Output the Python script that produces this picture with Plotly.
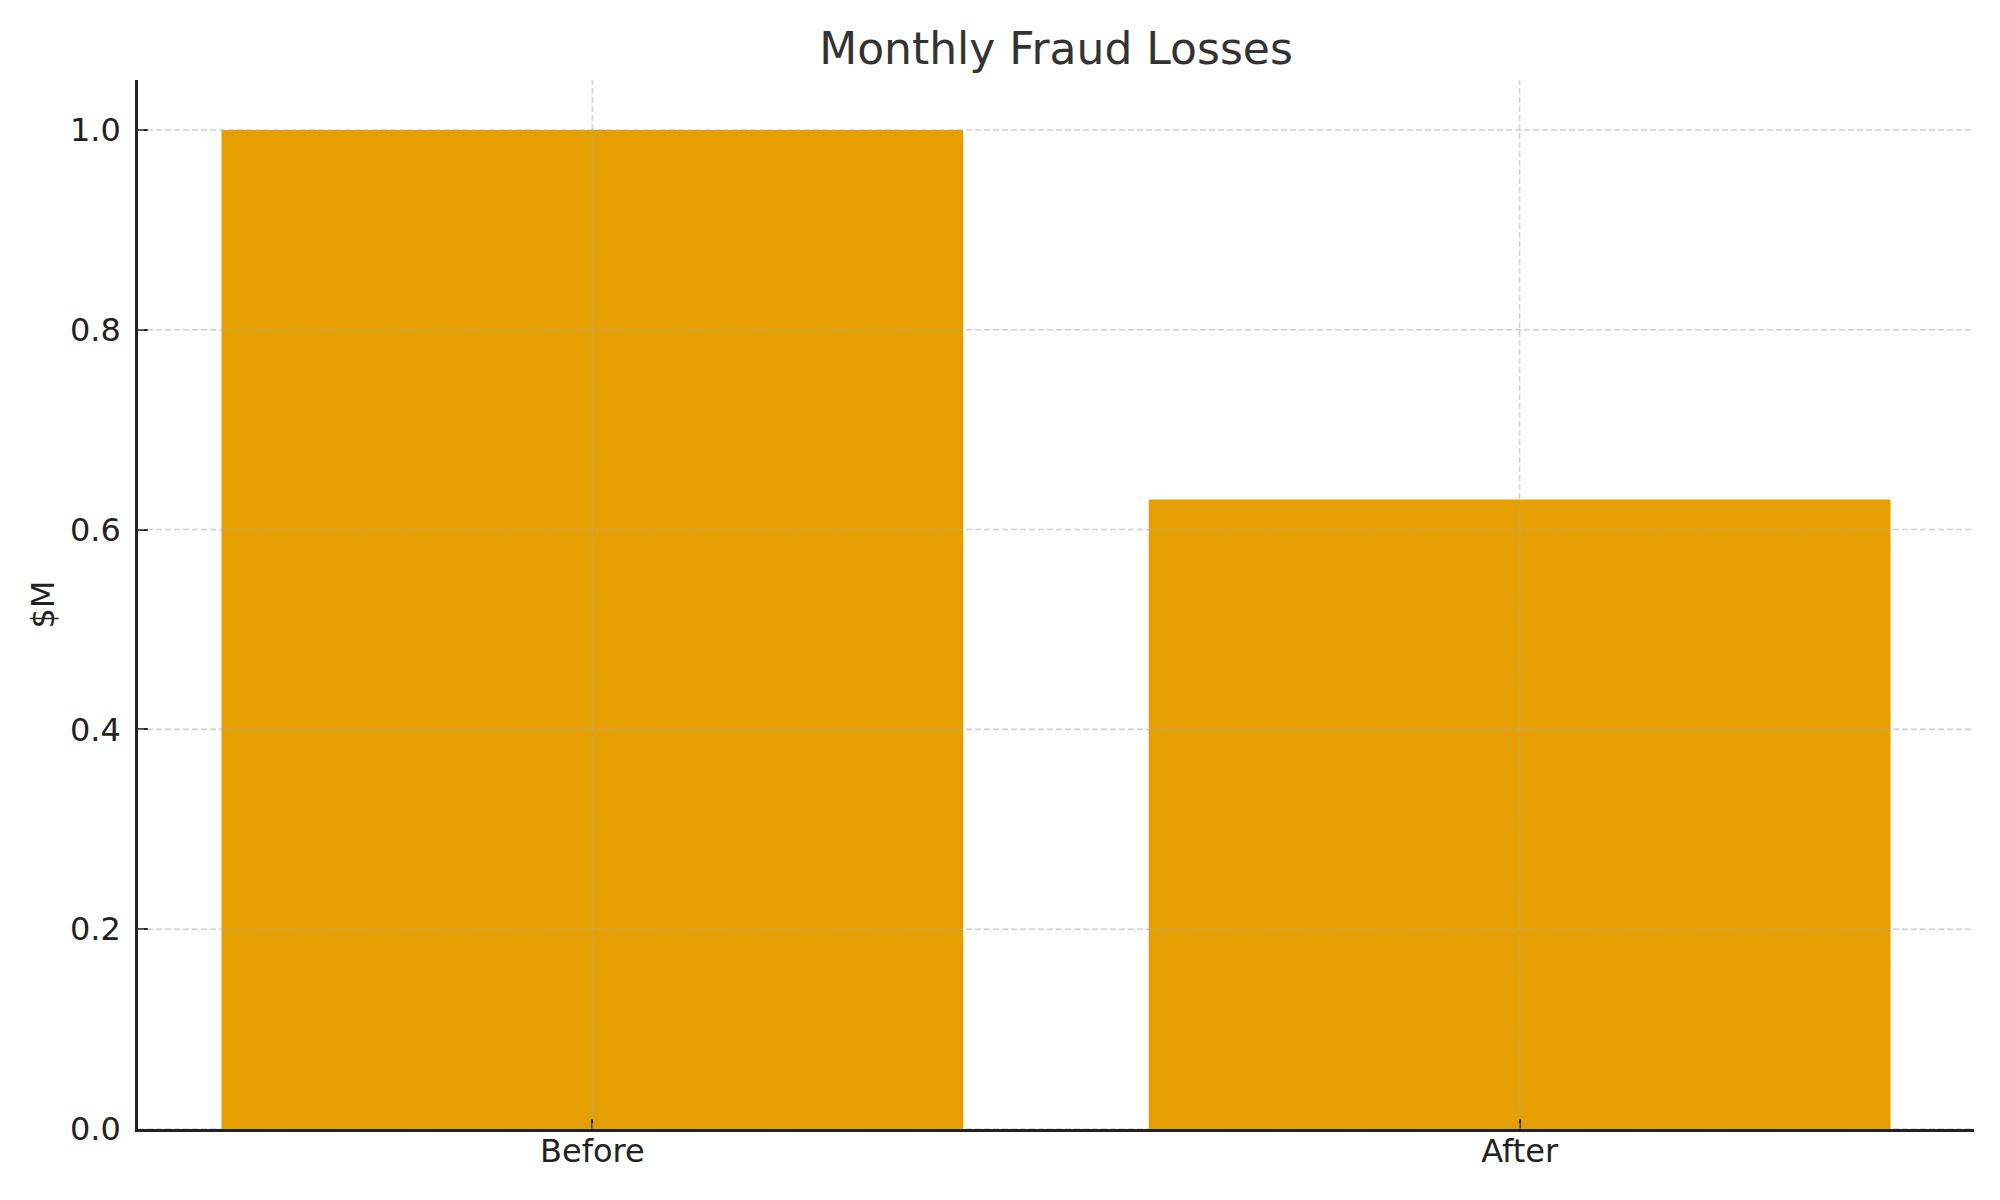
import plotly.graph_objects as go

# Chart data
periods = ["Before", "After"]
losses = [1.0, 0.63]          # $M
y_ticks = [0.0, 0.2, 0.4, 0.6, 0.8, 1.0]

bar_color = "#E69F00"
axis_color = "#222222"
grid_color = "rgba(170,170,170,0.55)"
font_family = "DejaVu Sans, Verdana, sans-serif"

# the html page puts the figure 8px in from the window corner
fig_w, fig_h = 1992, 1192

fig = go.Figure()

fig.add_trace(go.Bar(
    x=periods,
    y=losses,
    width=0.8,
    marker=dict(color=bar_color, line=dict(width=0)),
    showlegend=False
))

# Dashed grid drawn above the bars (as matplotlib does by default)
for t in y_ticks:
    fig.add_shape(type="line", xref="paper", yref="y", x0=0, x1=1, y0=t, y1=t,
                  line=dict(color=grid_color, width=1.6, dash="6px,3px"), layer="above")
for p in periods:
    fig.add_shape(type="line", xref="x", yref="paper", x0=p, x1=p, y0=0, y1=1,
                  line=dict(color=grid_color, width=1.6, dash="6px,3px"), layer="above")

fig.update_layout(
    width=fig_w,
    height=fig_h,
    paper_bgcolor="white",
    plot_bgcolor="white",
    margin=dict(l=130, r=26, t=72, b=71),
    font=dict(family=font_family, size=32, color=axis_color),
    title=dict(
        text="Monthly Fraud Losses",
        x=0.5, xref="paper", xanchor="center",
        y=1 - 41 / fig_h, yref="container", yanchor="middle",
        font=dict(size=44, color="#333333", family=font_family)
    ),
    bargap=0.2
)

fig.update_xaxes(
    type="category",
    range=[-0.49, 1.49],
    showgrid=False,
    showline=True, linecolor=axis_color, linewidth=2.6,
    ticks="inside", ticklen=10, tickwidth=2.4, tickcolor=axis_color,
    ticklabelstandoff=-8,
    zeroline=False
)

fig.update_yaxes(
    range=[0, 1.05],
    tickvals=y_ticks,
    tickformat=".1f",
    showgrid=False,
    showline=True, linecolor=axis_color, linewidth=2.6,
    ticks="inside", ticklen=10, tickwidth=2.4, tickcolor=axis_color,
    ticklabelstandoff=8,
    zeroline=False,
    title=dict(text="$M", standoff=6, font=dict(size=32, color=axis_color))
)

fig.write_html("out.html")
